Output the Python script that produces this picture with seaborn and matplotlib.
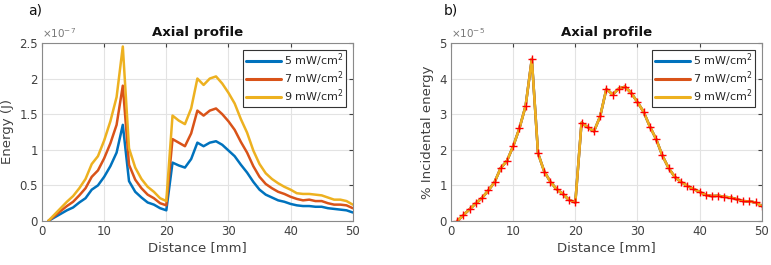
import numpy as np
import pandas as pd
import matplotlib
matplotlib.use("Agg")
import matplotlib.pyplot as plt
import seaborn as sns
from matplotlib.ticker import FuncFormatter

# distance along the axis (mm)
distance = list(range(1, 51))

# energy (x 1e-7 J) for each intensity
energy_5 = [0, 0.05, 0.10, 0.15, 0.19, 0.26, 0.32, 0.44, 0.50, 0.62, 0.77, 0.96, 1.35, 0.56, 0.41,
            0.33, 0.26, 0.23, 0.18, 0.15, 0.82, 0.78, 0.75, 0.87, 1.10, 1.05, 1.10, 1.12, 1.07, 0.99,
            0.91, 0.79, 0.68, 0.55, 0.44, 0.37, 0.33, 0.29, 0.27, 0.24, 0.22, 0.21, 0.21, 0.20, 0.20,
            0.18, 0.17, 0.16, 0.15, 0.12]
energy_7 = [0, 0.07, 0.14, 0.21, 0.27, 0.36, 0.46, 0.62, 0.71, 0.88, 1.09, 1.35, 1.90, 0.79, 0.58,
            0.46, 0.37, 0.32, 0.25, 0.22, 1.15, 1.10, 1.05, 1.23, 1.55, 1.48, 1.55, 1.58, 1.50, 1.40,
            1.28, 1.11, 0.96, 0.77, 0.62, 0.52, 0.46, 0.41, 0.38, 0.34, 0.31, 0.29, 0.30, 0.28, 0.28,
            0.25, 0.23, 0.23, 0.22, 0.18]
energy_9 = [0, 0.09, 0.18, 0.27, 0.35, 0.46, 0.59, 0.80, 0.91, 1.13, 1.40, 1.74, 2.45, 1.02, 0.75,
            0.59, 0.48, 0.41, 0.32, 0.28, 1.48, 1.41, 1.36, 1.58, 2.00, 1.91, 2.00, 2.03, 1.93, 1.80,
            1.65, 1.43, 1.24, 0.99, 0.80, 0.67, 0.59, 0.53, 0.48, 0.44, 0.39, 0.38, 0.38, 0.37, 0.36,
            0.33, 0.30, 0.30, 0.28, 0.23]

# % incidental energy (x 1e-5), identical for all three intensities
pct_incident = [0, 0.17, 0.33, 0.50, 0.65, 0.86, 1.09, 1.49, 1.69, 2.10, 2.60, 3.23, 4.55, 1.90, 1.39,
                1.10, 0.89, 0.76, 0.59, 0.52, 2.76, 2.63, 2.52, 2.94, 3.71, 3.55, 3.72, 3.77, 3.59, 3.34,
                3.06, 2.65, 2.30, 1.84, 1.49, 1.24, 1.10, 0.99, 0.90, 0.82, 0.73, 0.70, 0.71, 0.68, 0.66,
                0.61, 0.56, 0.55, 0.52, 0.42]

labels = ["5 mW/cm$^2$", "7 mW/cm$^2$", "9 mW/cm$^2$"]
colors = ["#0072BD", "#D95319", "#EDB120"]

sns.set_style("white")
plt.rcParams["font.family"] = ["DejaVu Sans"]
txt = "#404040"

fig = plt.figure(figsize=(7.71, 2.65), dpi=100)
ax1 = fig.add_axes([0.0545, 0.166, 0.403, 0.672])
ax2 = fig.add_axes([0.585, 0.166, 0.403, 0.672])

energy = [energy_5, energy_7, energy_9]
for vals, lab, c in zip(energy, labels, colors):
    sns.lineplot(x=distance, y=vals, ax=ax1, color=c, lw=1.8, label=lab)

for lab, c in zip(labels, colors):
    sns.lineplot(x=distance, y=pct_incident, ax=ax2, color=c, lw=1.8, label=lab)
ax2.plot(distance, pct_incident, ls="none", marker="+", ms=6, mew=1.0, color="red")

fmt = FuncFormatter(lambda v, _: f"{v:g}")
for ax, ymax, ylab, exp, panel, px in [
    (ax1, 2.5, "Energy (J)", "-7", "a)", 0.037),
    (ax2, 5, "% Incidental energy", "-5", "b)", 0.576),
]:
    ax.set_xlim(0, 50)
    ax.set_ylim(0, ymax)
    ax.set_xticks([0, 10, 20, 30, 40, 50])
    ax.yaxis.set_major_formatter(fmt)
    ax.grid(True, color="#e3e3e3", lw=0.8)
    ax.tick_params(direction="in", length=3, labelsize=8.5, colors=txt, top=True, right=True,
                   labelcolor=txt, pad=3)
    for s in ax.spines.values():
        s.set_color("#8a8a8a")
        s.set_linewidth(0.8)
    ax.set_xlabel("Distance [mm]", fontsize=9.5, color=txt, labelpad=2)
    ax.set_ylabel(ylab, fontsize=9.5, color=txt, labelpad=4)
    ax.set_title("Axial profile", fontsize=9.5, fontweight="bold", color="#111111", pad=5)
    ax.text(0.0, 1.015, r"$\times10^{" + exp + "}$", transform=ax.transAxes, fontsize=7.5,
            color="#777777", ha="left", va="bottom")
    fig.text(px, 0.985, panel, fontsize=10, color="#111111", ha="left", va="top")
    leg = ax.legend(loc="upper right", fontsize=8, frameon=True, fancybox=False, framealpha=1,
                    edgecolor="#333333", handlelength=3.2, handletextpad=0.3, borderpad=0.2,
                    labelspacing=0.02, borderaxespad=0.6)
    leg.get_frame().set_linewidth(0.8)
    for h in leg.get_lines():
        h.set_linewidth(2.2)

fig.savefig("out.png", dpi=100)
